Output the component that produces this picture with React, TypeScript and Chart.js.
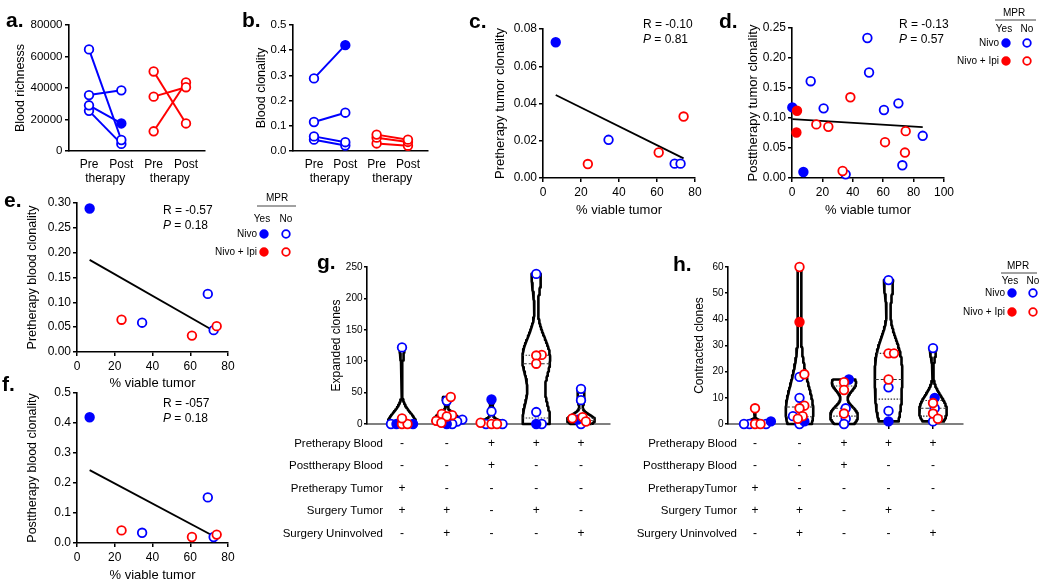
import React, { useEffect, useRef } from "react";
import { Chart, registerables } from "chart.js";

Chart.register(...registerables);

const W = 1050;
const H = 587;
const FONT = "'Liberation Sans', Arial, Helvetica, sans-serif";
const BLUE = "#0000ff";
const RED = "#ff0000";
const WHITE = "#ffffff";
const BLACK = "#000000";

Chart.defaults.font.family = FONT;
Chart.defaults.color = BLACK;

/* ---------- a. / b. paired pre / post ---------- */
const prePostLabels = ["Pre", "Post", "Pre", "Post"];
const pairGroupLabel = "therapy";

const richTicks = [0, 20000, 40000, 60000, 80000];
const richNivoPre = [64500, 35500, 29000, 25500];
const richNivoPost = [7000, 38500, 17500, 4500];
const richNivoPostMPR = [false, false, true, false];
const richIpiPre = [50500, 34500, 12500];
const richIpiPost = [17500, 40500, 43500];

const clonTicks = [0, 0.1, 0.2, 0.3, 0.4, 0.5];
const clonNivoPre = [0.288, 0.115, 0.058, 0.045];
const clonNivoPost = [0.42, 0.152, 0.035, 0.022];
const clonNivoPostMPR = [true, false, false, false];
const clonIpiPre = [0.065, 0.053, 0.03];
const clonIpiPost = [0.045, 0.036, 0.021];

/* ---------- c. e. f. (7 patients) ---------- */
const viableTicks = [0, 20, 40, 60, 80];
const viableNivoMPR = [6.7];
const viableNivoNo = [34.5, 69.3, 72.4];
const viableIpiNo = [23.6, 60.9, 74.0];

const cTicksY = [0, 0.02, 0.04, 0.06, 0.08];
const cNivoMPR = [0.0729];
const cNivoNo = [0.0205, 0.0077, 0.0077];
const cIpiNo = [0.0075, 0.0137, 0.033];

const eTicksY = [0, 0.05, 0.1, 0.15, 0.2, 0.25, 0.3];
const eNivoMPR = [0.289];
const eNivoNo = [0.059, 0.117, 0.044];
const eIpiNo = [0.065, 0.033, 0.052];

const fTicksY = [0, 0.1, 0.2, 0.3, 0.4, 0.5];
const fNivoMPR = [0.419];
const fNivoNo = [0.034, 0.152, 0.02];
const fIpiNo = [0.042, 0.02, 0.028];

/* ---------- d. (20 patients) ---------- */
const dTicksX = [0, 20, 40, 60, 80, 100];
const dTicksY = [0, 0.05, 0.1, 0.15, 0.2, 0.25];
const dNivoMPRx = [0.2, 7.5];
const dNivoMPRy = [0.1177, 0.01];
const dNivoNox = [49.6, 50.7, 12.3, 20.8, 60.5, 70, 86, 72.6, 35.3];
const dNivoNoy = [0.2333, 0.1758, 0.1613, 0.1161, 0.1133, 0.1244, 0.0703, 0.0212, 0.0061];
const dIpiMPRx = [3.3, 2.9];
const dIpiMPRy = [0.112, 0.0759];
const dIpiNox = [16, 23.9, 38.4, 33.3, 61.2, 74.8, 74.3];
const dIpiNoy = [0.0893, 0.0854, 0.1345, 0.0117, 0.0597, 0.0781, 0.0424];

/* ---------- g. / h. clones per compartment combination ---------- */
const gTicksY = [0, 50, 100, 150, 200, 250];
const gRedOpen = [[0, 0, 9], [43, 16, 14, 12, 5, 2], [2, 0, 0], [110, 109, 96], [11, 9, 4]];
const gRedFilled = [[], [], [], [], []];
const gBlueOpen = [[122, 0], [37, 7, 4, 0], [20, 0, 0], [239, 19, 0], [56, 38, 0]];
const gBlueFilled = [[0, 0], [0], [39], [0], [7]];

const hTicksY = [0, 10, 20, 30, 40, 50, 60];
const hRedOpen = [[6, 0, 0], [60, 19, 7, 6, 3, 2], [16, 13, 4], [27, 27, 17], [8, 4, 2]];
const hRedFilled = [[], [39], [], [], []];
const hBlueOpen = [[0, 0, 0], [18, 10, 3, 0], [6, 2, 0], [55, 14, 5], [29, 6, 1]];
const hBlueFilled = [[1], [1], [17], [1], [10]];

const tableRowsG = ["Pretherapy Blood", "Posttherapy Blood", "Pretherapy Tumor", "Surgery Tumor", "Surgery Uninvolved"];
const tableRowsH = ["Pretherapy Blood", "Posttherapy Blood", "PretherapyTumor", "Surgery Tumor", "Surgery Uninvolved"];
const tableMarks = [
  ["-", "-", "+", "+", "+"],
  ["-", "-", "+", "-", "-"],
  ["+", "-", "-", "-", "-"],
  ["+", "+", "-", "+", "-"],
  ["-", "+", "-", "-", "+"],
];

const legendTitle = "MPR";
const legendCols = ["Yes", "No"];
const legendRows = ["Nivo", "Nivo + Ipi"];
const legendColors = [BLUE, RED];

/* ---------- helpers ---------- */
const PR = 4.3;
const PBW = 1.8;

function geom(L: number, T: number, R: number, B: number, yTitleX: number, yTitleSize: number, xH: number) {
  const lh = yTitleSize * 1.2;
  const left = yTitleX - lh / 2;
  return { pad: { left, top: T, right: W - R, bottom: H - B - xH }, yW: L - left, xH };
}

function yAxis(ticksArr: number[], fmt: (v: number) => string, title: string, width: number, o: any = {}) {
  return {
    type: "linear",
    position: "left",
    min: ticksArr[0],
    max: ticksArr[ticksArr.length - 1],
    afterBuildTicks: (ax: any) => {
      ax.ticks = ticksArr.map((v) => ({ value: v }));
    },
    afterFit: (ax: any) => {
      ax.width = width;
    },
    grid: { display: true, drawOnChartArea: false, drawTicks: true, tickLength: o.tl ?? 4, color: BLACK, lineWidth: 1.5 },
    border: { display: true, color: BLACK, width: 1.6 },
    ticks: {
      callback: (v: any) => fmt(Number(v)),
      font: { size: o.tickSize ?? 12, family: FONT },
      color: BLACK,
      padding: o.pad ?? 2,
      autoSkip: false,
    },
    title: { display: true, text: title, font: { size: o.titleSize ?? 13, family: FONT }, color: BLACK, padding: 0 },
  };
}

function xAxis(min: number, max: number, tickVals: number[], fmt: ((v: number, i: number) => string) | null, title: string | null, height: number, o: any = {}) {
  return {
    type: "linear",
    position: "bottom",
    min,
    max,
    afterBuildTicks: (ax: any) => {
      ax.ticks = tickVals.map((v) => ({ value: v }));
    },
    afterFit: (ax: any) => {
      ax.height = height;
    },
    grid: {
      display: true,
      drawOnChartArea: false,
      drawTicks: o.drawTicks ?? true,
      tickLength: o.drawTicks === false ? 0 : o.tl ?? 4,
      color: o.tickColor ?? BLACK,
      lineWidth: 1.5,
    },
    border: { display: true, color: o.borderColor ?? BLACK, width: o.borderWidth ?? 1.6 },
    ticks: {
      display: fmt !== null,
      callback: (v: any, i: number) => (fmt ? fmt(Number(v), i) : ""),
      font: { size: o.tickSize ?? 12, family: FONT },
      color: BLACK,
      padding: o.pad ?? 3,
      autoSkip: false,
      maxRotation: 0,
      minRotation: 0,
    },
    title: title
      ? { display: true, text: title, font: { size: o.titleSize ?? 13, family: FONT }, color: BLACK, padding: 0 }
      : { display: false },
  };
}

function baseOptions(pad: any, scales: any) {
  return {
    animation: false,
    responsive: false,
    maintainAspectRatio: false,
    devicePixelRatio: 1,
    events: [],
    layout: { padding: pad },
    plugins: { legend: { display: false }, tooltip: { enabled: false } },
    scales,
  };
}

function marker(color: string, filled: boolean) {
  return {
    pointRadius: PR,
    pointHoverRadius: PR,
    pointBorderWidth: PBW,
    pointBackgroundColor: filled ? color : WHITE,
    pointBorderColor: color,
    showLine: false,
    clip: false,
    order: 0,
  };
}

function scatterGroup(xs: number[], ys: number[], color: string, filled: boolean) {
  return { data: xs.map((x, i) => ({ x, y: ys[i] })), ...marker(color, filled) };
}

function regressionLine(xs: number[], ys: number[]) {
  const n = xs.length;
  const mx = xs.reduce((s, v) => s + v, 0) / n;
  const my = ys.reduce((s, v) => s + v, 0) / n;
  let sxy = 0;
  let sxx = 0;
  for (let i = 0; i < n; i++) {
    sxy += (xs[i] - mx) * (ys[i] - my);
    sxx += (xs[i] - mx) * (xs[i] - mx);
  }
  const b = sxy / sxx;
  const a = my - b * mx;
  const x0 = Math.min(...xs);
  const x1 = Math.max(...xs);
  return {
    data: [
      { x: x0, y: a + b * x0 },
      { x: x1, y: a + b * x1 },
    ],
    showLine: true,
    borderColor: BLACK,
    borderWidth: 1.8,
    pointRadius: 0,
    clip: false,
    order: 5,
  };
}

function pairDs(xs: number[], ys: number[], color: string, filled: boolean[]) {
  return {
    data: xs.map((x, i) => ({ x, y: ys[i] })),
    showLine: true,
    borderColor: color,
    borderWidth: 2,
    pointRadius: PR,
    pointHoverRadius: PR,
    pointBorderWidth: PBW,
    pointBorderColor: color,
    pointBackgroundColor: filled.map((f) => (f ? color : WHITE)),
    clip: false,
  };
}

function txt(ctx: CanvasRenderingContext2D, s: string, x: number, y: number, size: number, o: any = {}) {
  ctx.save();
  ctx.font = `${o.italic ? "italic " : ""}${o.bold ? "bold " : ""}${size}px ${FONT}`;
  ctx.fillStyle = o.color ?? BLACK;
  ctx.textAlign = o.align ?? "left";
  ctx.textBaseline = o.baseline ?? "middle";
  ctx.fillText(s, x, y);
  ctx.restore();
}

function panelLetter(ctx: CanvasRenderingContext2D, s: string, x: number, baseline: number) {
  txt(ctx, s, x, baseline, 21, { bold: true, baseline: "alphabetic" });
}

function statText(ctx: CanvasRenderingContext2D, x: number, y1: number, y2: number, r: string, p: string) {
  txt(ctx, `R = ${r}`, x, y1, 12);
  ctx.save();
  ctx.font = `italic 12px ${FONT}`;
  const w = ctx.measureText("P").width;
  ctx.restore();
  txt(ctx, "P", x, y2, 12, { italic: true });
  txt(ctx, ` = ${p}`, x + w, y2, 12);
}

function circle(ctx: CanvasRenderingContext2D, x: number, y: number, r: number, color: string, filled: boolean) {
  ctx.save();
  ctx.beginPath();
  ctx.arc(x, y, r, 0, Math.PI * 2);
  ctx.fillStyle = filled ? color : WHITE;
  ctx.fill();
  ctx.lineWidth = PBW;
  ctx.strokeStyle = color;
  ctx.stroke();
  ctx.restore();
}

function drawLegend(ctx: CanvasRenderingContext2D, o: any) {
  txt(ctx, legendTitle, o.mprX, o.mprY, 10, { align: "center" });
  ctx.save();
  ctx.strokeStyle = "#444";
  ctx.lineWidth = 1;
  ctx.beginPath();
  ctx.moveTo(o.lineX0, o.lineY);
  ctx.lineTo(o.lineX1, o.lineY);
  ctx.stroke();
  ctx.restore();
  txt(ctx, legendCols[0], o.yesX - 2, o.colY, 10, { align: "center" });
  txt(ctx, legendCols[1], o.noX, o.colY, 10, { align: "center" });
  legendRows.forEach((lab, i) => {
    const y = o.rowY[i];
    txt(ctx, lab, o.textRight, y, 10, { align: "right" });
    circle(ctx, o.yesX, y, 3.8, legendColors[i], true);
    circle(ctx, o.noX, y, 3.8, legendColors[i], false);
  });
}

function overlay(draw: (ctx: CanvasRenderingContext2D, chart: any) => void) {
  return {
    id: "overlay",
    afterDraw(chart: any) {
      const ctx = chart.ctx as CanvasRenderingContext2D;
      ctx.save();
      draw(ctx, chart);
      ctx.restore();
    },
  };
}

/* ---------- violin helpers ---------- */
function quantile(sorted: number[], p: number) {
  const pos = (sorted.length - 1) * p;
  const lo = Math.floor(pos);
  const hi = Math.ceil(pos);
  return sorted[lo] + (sorted[hi] - sorted[lo]) * (pos - lo);
}

function violinSets(values: number[], center: number, halfMax: number, bwFrac: number) {
  const min = Math.min(...values);
  const max = Math.max(...values);
  const range = max - min || 1;
  const bw = range * bwFrac;
  const dens = (y: number) => values.reduce((s, v) => s + Math.exp(-0.5 * ((y - v) / bw) ** 2), 0);
  const N = 100;
  const ys: number[] = [];
  for (let i = 0; i <= N; i++) ys.push(min + (range * i) / N);
  const ds = ys.map(dens);
  const m = Math.max(...ds);
  const half = (y: number) => (dens(y) / m) * halfMax;
  const right = ys.map((y, i) => ({ x: center + (ds[i] / m) * halfMax, y }));
  const left = ys
    .slice()
    .reverse()
    .map((y) => ({ x: center - half(y), y }));
  const outline = [...right, ...left, right[0]];
  const sorted = [...values].sort((a, b) => a - b);
  const qs = [0.25, 0.5, 0.75].map((p) => quantile(sorted, p));
  const sets: any[] = [
    {
      data: outline,
      showLine: true,
      borderColor: BLACK,
      borderWidth: 2.6,
      borderJoinStyle: "round",
      pointRadius: 0,
      tension: 0,
      clip: false,
      order: 10,
    },
  ];
  qs.forEach((q, k) => {
    const w = half(q);
    sets.push({
      data: [
        { x: center - w, y: q },
        { x: center + w, y: q },
      ],
      showLine: true,
      borderColor: "#333",
      borderWidth: 1.1,
      borderDash: k === 1 ? [4, 2] : [1.5, 1.5],
      pointRadius: 0,
      clip: false,
      order: 9,
    });
  });
  return sets;
}

function swarm(ys: number[], pxX: number, pxY: number, d: number) {
  const idx = ys.map((_, i) => i).sort((a, b) => ys[a] - ys[b]);
  const placed: { x: number; y: number }[] = [];
  const off = new Array(ys.length).fill(0);
  for (const i of idx) {
    const yp = ys[i] * pxY;
    const cands = [0];
    for (const p of placed) {
      const dy = Math.abs(p.y - yp);
      if (dy < d) {
        const dx = Math.sqrt(d * d - dy * dy);
        cands.push(p.x + dx + 0.01, p.x - dx - 0.01);
      }
    }
    cands.sort((a, b) => Math.abs(a) - Math.abs(b));
    let chosen = 0;
    for (const c of cands) {
      if (placed.every((p) => (p.x - c) ** 2 + (p.y - yp) ** 2 >= d * d - 0.05)) {
        chosen = c;
        break;
      }
    }
    placed.push({ x: chosen, y: yp });
    off[i] = chosen / pxX;
  }
  return off;
}

function violinPanelDatasets(redOpen: number[][], redFilled: number[][], blueOpen: number[][], blueFilled: number[][], pxX: number, pxY: number) {
  const groups = [
    { vals: redFilled, color: RED, filled: true },
    { vals: redOpen, color: RED, filled: false },
    { vals: blueFilled, color: BLUE, filled: true },
    { vals: blueOpen, color: BLUE, filled: false },
  ];
  const pts: { x: number; y: number }[][] = groups.map(() => []);
  const violins: any[] = [];
  const nCols = redOpen.length;
  for (let c = 0; c < nCols; c++) {
    const all: { y: number; gi: number }[] = [];
    groups.forEach((g, gi) => g.vals[c].forEach((v) => all.push({ y: v, gi })));
    const offs = swarm(
      all.map((p) => p.y),
      pxX,
      pxY,
      5.5
    );
    all.forEach((p, k) => pts[p.gi].push({ x: c + 1 + offs[k], y: p.y }));
    violins.push(...violinSets(all.map((p) => p.y), c + 1, 0.31, 0.135));
  }
  return [...groups.map((g, gi) => ({ data: pts[gi], ...marker(g.color, g.filled) })), ...violins];
}

const tableRowY = [444, 466, 489, 511, 534];

function drawTable(ctx: CanvasRenderingContext2D, chart: any, rows: string[], labelRight: number) {
  const xs = chart.scales.x;
  rows.forEach((label, r) => {
    const y = tableRowY[r];
    txt(ctx, label, labelRight, y, 11.5, { align: "right" });
    tableMarks[r].forEach((m, c) => {
      txt(ctx, m, xs.getPixelForValue(c + 1), y, 12, { align: "center" });
    });
  });
}

/* ---------- configs ---------- */
function buildConfigs() {
  const cfgs: any[] = [];
  const fmt0 = (v: number) => String(Math.round(v));
  const fmtN = (n: number) => (v: number) => v.toFixed(n);

  // a.
  {
    const g = geom(69, 25, 205, 151, 21, 12.5, 40);
    const ds: any[] = [];
    richNivoPre.forEach((v, i) => ds.push(pairDs([1, 2], [v, richNivoPost[i]], BLUE, [false, richNivoPostMPR[i]])));
    richIpiPre.forEach((v, i) => ds.push(pairDs([3, 4], [v, richIpiPost[i]], RED, [false, false])));
    cfgs.push({
      type: "scatter",
      data: { datasets: ds },
      options: baseOptions(g.pad, {
        x: xAxis(0.381, 4.588, [1, 2, 3, 4], (_v, i) => prePostLabels[i], null, g.xH, { drawTicks: false, pad: 6, tickSize: 12 }),
        y: yAxis(richTicks, fmt0, "Blood richnesss", g.yW, { tickSize: 11.5, titleSize: 12.5, pad: 2.5 }),
      }),
      plugins: [
        overlay((ctx, chart) => {
          const xs = chart.scales.x;
          txt(ctx, pairGroupLabel, xs.getPixelForValue(1.5), 179, 12, { align: "center" });
          txt(ctx, pairGroupLabel, xs.getPixelForValue(3.5), 179, 12, { align: "center" });
          panelLetter(ctx, "a.", 6, 27);
        }),
      ],
    });
  }

  // b.
  {
    const g = geom(293, 25, 428, 151, 262, 12.5, 40);
    const ds: any[] = [];
    clonNivoPre.forEach((v, i) => ds.push(pairDs([1, 2], [v, clonNivoPost[i]], BLUE, [false, clonNivoPostMPR[i]])));
    clonIpiPre.forEach((v, i) => ds.push(pairDs([3, 4], [v, clonIpiPost[i]], RED, [false, false])));
    cfgs.push({
      type: "scatter",
      data: { datasets: ds },
      options: baseOptions(g.pad, {
        x: xAxis(0.33, 4.64, [1, 2, 3, 4], (_v, i) => prePostLabels[i], null, g.xH, { drawTicks: false, pad: 6, tickSize: 12 }),
        y: yAxis(clonTicks, fmtN(1), "Blood clonality", g.yW, { tickSize: 11.5, titleSize: 12.5, pad: 2.5 }),
      }),
      plugins: [
        overlay((ctx, chart) => {
          const xs = chart.scales.x;
          txt(ctx, pairGroupLabel, xs.getPixelForValue(1.5), 179, 12, { align: "center" });
          txt(ctx, pairGroupLabel, xs.getPixelForValue(3.5), 179, 12, { align: "center" });
          panelLetter(ctx, "b.", 242, 27);
        }),
      ],
    });
  }

  // c.
  {
    const g = geom(543, 29, 695, 178, 500, 13, 39.8);
    const allX = [...viableNivoMPR, ...viableNivoNo, ...viableIpiNo];
    const allY = [...cNivoMPR, ...cNivoNo, ...cIpiNo];
    cfgs.push({
      type: "scatter",
      data: {
        datasets: [
          scatterGroup(viableIpiNo, cIpiNo, RED, false),
          scatterGroup(viableNivoMPR, cNivoMPR, BLUE, true),
          scatterGroup(viableNivoNo, cNivoNo, BLUE, false),
          regressionLine(allX, allY),
        ],
      },
      options: baseOptions(g.pad, {
        x: xAxis(0, 80, viableTicks, (v) => String(v), "% viable tumor", g.xH, { pad: 3.5 }),
        y: yAxis(cTicksY, fmtN(2), "Pretherapy tumor clonality", g.yW, {}),
      }),
      plugins: [
        overlay((ctx) => {
          statText(ctx, 643, 25, 40, "-0.10", "0.81");
          panelLetter(ctx, "c.", 469, 28);
        }),
      ],
    });
  }

  // d.
  {
    const g = geom(792, 28, 944, 178, 753, 13, 39.8);
    const allX = [...dNivoMPRx, ...dNivoNox, ...dIpiMPRx, ...dIpiNox];
    const allY = [...dNivoMPRy, ...dNivoNoy, ...dIpiMPRy, ...dIpiNoy];
    cfgs.push({
      type: "scatter",
      data: {
        datasets: [
          scatterGroup(dIpiMPRx, dIpiMPRy, RED, true),
          scatterGroup(dIpiNox, dIpiNoy, RED, false),
          scatterGroup(dNivoMPRx, dNivoMPRy, BLUE, true),
          scatterGroup(dNivoNox, dNivoNoy, BLUE, false),
          regressionLine(allX, allY),
        ],
      },
      options: baseOptions(g.pad, {
        x: xAxis(0, 100, dTicksX, (v) => String(v), "% viable tumor", g.xH, { pad: 3.5 }),
        y: yAxis(dTicksY, fmtN(2), "Posttherapy tumor clonality", g.yW, {}),
      }),
      plugins: [
        overlay((ctx) => {
          statText(ctx, 899, 25, 40, "-0.13", "0.57");
          panelLetter(ctx, "d.", 719, 28);
          drawLegend(ctx, { mprX: 1014, mprY: 13, lineX0: 995, lineX1: 1036, lineY: 20, yesX: 1006, noX: 1027, colY: 29, rowY: [43, 61], textRight: 999 });
        }),
      ],
    });
  }

  // e.
  {
    const g = geom(77, 203, 228, 352, 33, 12.5, 38.8);
    const allX = [...viableNivoMPR, ...viableNivoNo, ...viableIpiNo];
    const allY = [...eNivoMPR, ...eNivoNo, ...eIpiNo];
    cfgs.push({
      type: "scatter",
      data: {
        datasets: [
          scatterGroup(viableIpiNo, eIpiNo, RED, false),
          scatterGroup(viableNivoMPR, eNivoMPR, BLUE, true),
          scatterGroup(viableNivoNo, eNivoNo, BLUE, false),
          regressionLine(allX, allY),
        ],
      },
      options: baseOptions(g.pad, {
        x: xAxis(0, 80, viableTicks, (v) => String(v), "% viable tumor", g.xH, { pad: 3 }),
        y: yAxis(eTicksY, fmtN(2), "Pretherapy blood clonality", g.yW, { titleSize: 12.5 }),
      }),
      plugins: [
        overlay((ctx) => {
          statText(ctx, 163, 211, 226, "-0.57", "0.18");
          panelLetter(ctx, "e.", 4, 207);
          drawLegend(ctx, { mprX: 277, mprY: 198, lineX0: 257, lineX1: 296, lineY: 206, yesX: 264, noX: 286, colY: 219, rowY: [234, 252], textRight: 257 });
        }),
      ],
    });
  }

  // f.
  {
    const g = geom(77, 393, 228, 543, 33, 12.5, 39.8);
    const allX = [...viableNivoMPR, ...viableNivoNo, ...viableIpiNo];
    const allY = [...fNivoMPR, ...fNivoNo, ...fIpiNo];
    cfgs.push({
      type: "scatter",
      data: {
        datasets: [
          scatterGroup(viableIpiNo, fIpiNo, RED, false),
          scatterGroup(viableNivoMPR, fNivoMPR, BLUE, true),
          scatterGroup(viableNivoNo, fNivoNo, BLUE, false),
          regressionLine(allX, allY),
        ],
      },
      options: baseOptions(g.pad, {
        x: xAxis(0, 80, viableTicks, (v) => String(v), "% viable tumor", g.xH, { pad: 3 }),
        y: yAxis(fTicksY, fmtN(1), "Posttherapy blood clonality", g.yW, { titleSize: 12.5 }),
      }),
      plugins: [
        overlay((ctx) => {
          statText(ctx, 163, 404, 419, "-057", "0.18");
          panelLetter(ctx, "f.", 2, 391);
        }),
      ],
    });
  }

  // g.
  {
    const g = geom(367, 267, 610, 424, 337, 12, 20);
    const pxX = (610 - 367) / (5.648 - 0.218);
    const pxY = (424 - 267) / 250;
    cfgs.push({
      type: "scatter",
      data: { datasets: violinPanelDatasets(gRedOpen, gRedFilled, gBlueOpen, gBlueFilled, pxX, pxY) },
      options: baseOptions(g.pad, {
        x: xAxis(0.218, 5.648, [1, 2, 3, 4, 5], null, null, g.xH, { tl: 5, borderColor: "#808080", borderWidth: 2 }),
        y: yAxis(gTicksY, fmt0, "Expanded clones", g.yW, { tickSize: 10, titleSize: 12, tl: 3, pad: 1.5 }),
      }),
      plugins: [
        overlay((ctx, chart) => {
          drawTable(ctx, chart, tableRowsG, 383);
          panelLetter(ctx, "g.", 317, 269);
        }),
      ],
    });
  }

  // h.
  {
    const g = geom(728, 267, 963, 424, 700, 12, 20);
    const pxX = (963 - 728) / (5.674 - 0.393);
    const pxY = (424 - 267) / 60;
    cfgs.push({
      type: "scatter",
      data: { datasets: violinPanelDatasets(hRedOpen, hRedFilled, hBlueOpen, hBlueFilled, pxX, pxY) },
      options: baseOptions(g.pad, {
        x: xAxis(0.393, 5.674, [1, 2, 3, 4, 5], null, null, g.xH, { tl: 5, borderColor: "#808080", borderWidth: 2 }),
        y: yAxis(hTicksY, fmt0, "Contracted clones", g.yW, { tickSize: 10, titleSize: 12, tl: 3, pad: 1.5 }),
      }),
      plugins: [
        overlay((ctx, chart) => {
          drawTable(ctx, chart, tableRowsH, 737);
          panelLetter(ctx, "h.", 673, 271);
          drawLegend(ctx, { mprX: 1018, mprY: 266, lineX0: 1001, lineX1: 1037, lineY: 273, yesX: 1012, noX: 1033, colY: 281, rowY: [293, 312], textRight: 1005 });
        }),
      ],
    });
  }

  return cfgs;
}

export default function App() {
  const refs = useRef<(HTMLCanvasElement | null)[]>([]);
  const N_CHARTS = 8;
  useEffect(() => {
    const configs = buildConfigs();
    const charts = configs.map((cfg, i) => new Chart(refs.current[i] as HTMLCanvasElement, cfg));
    return () => charts.forEach((c) => c.destroy());
  }, []);
  return (
    <div style={{ position: "absolute", left: 0, top: 0, width: W, height: H, background: "#fff", overflow: "hidden" }}>
      {Array.from({ length: N_CHARTS }).map((_, i) => (
        <canvas
          key={i}
          ref={(el) => {
            refs.current[i] = el;
          }}
          width={W}
          height={H}
          style={{ position: "absolute", left: 0, top: 0, width: W, height: H }}
        />
      ))}
    </div>
  );
}
